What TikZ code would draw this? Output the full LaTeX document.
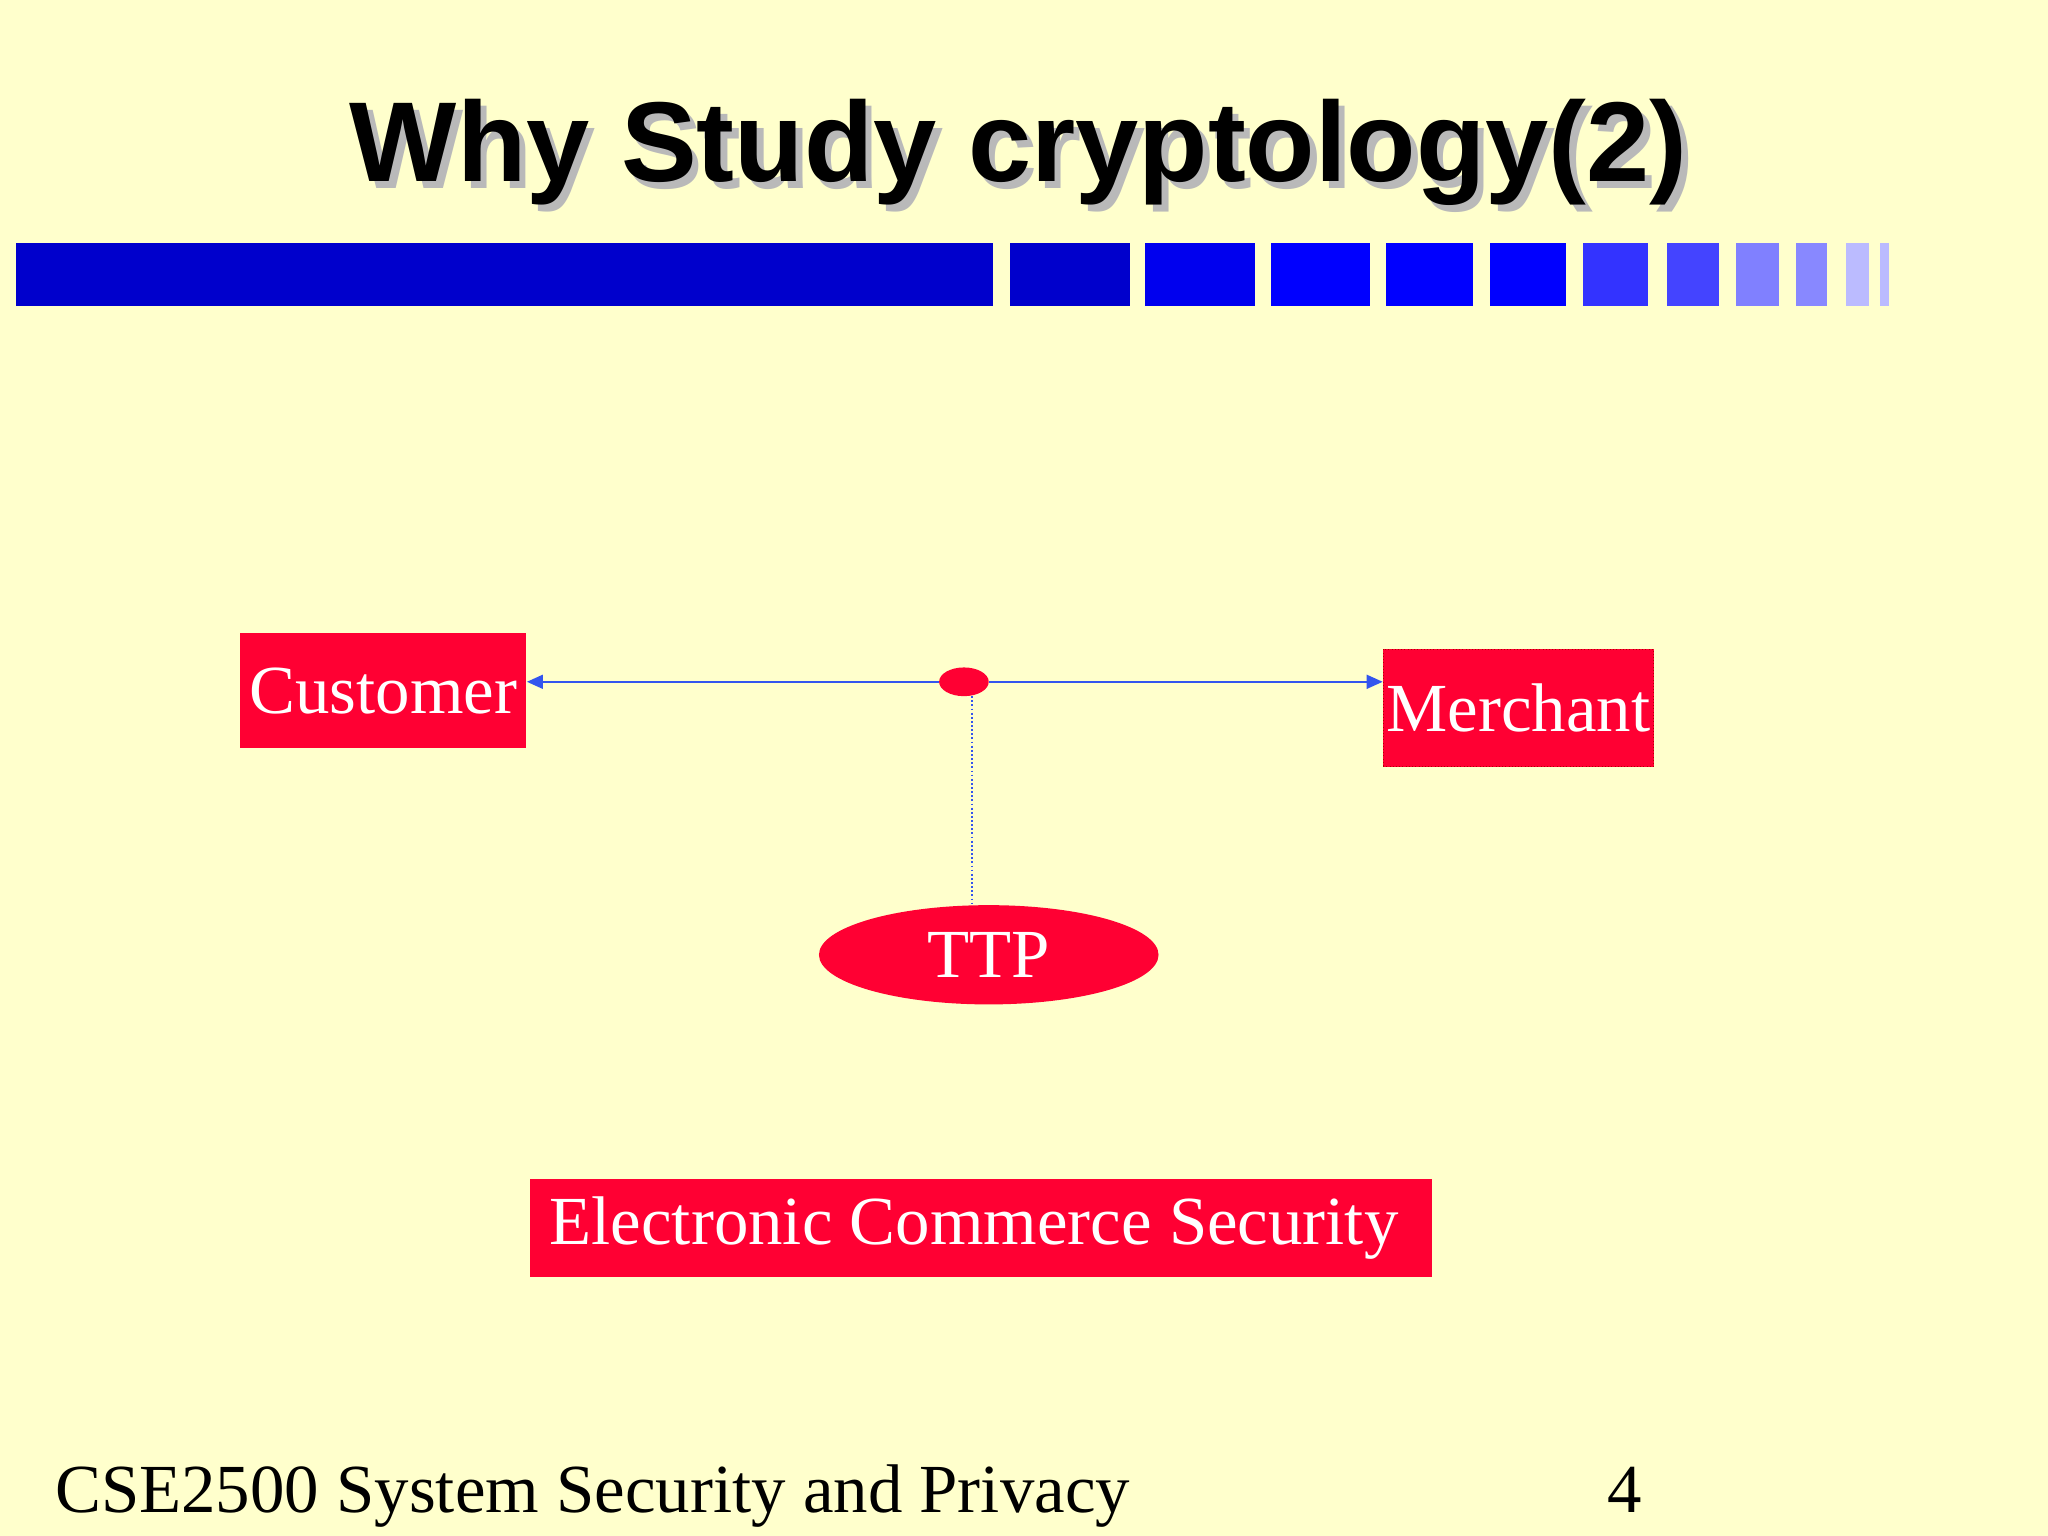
\documentclass[tikz,border=0pt]{standalone}
\usepackage{fontspec}
\setmainfont{Liberation Serif}
\setsansfont{Liberation Sans}
\usetikzlibrary{shapes.geometric,arrows.meta}
\definecolor{bg}{HTML}{FFFFCC}
\definecolor{rd}{HTML}{FF0033}
\definecolor{ln}{HTML}{3355EE}
\tikzset{
 redbox/.style={fill=rd,text=white,inner sep=0pt,font=\fontsize{30}{30}\selectfont},
 conn/.style={draw=ln,line width=1pt,-{Triangle[length=7pt,width=6pt]}}
}
\begin{document}
\begin{tikzpicture}[x=0.02cm,y=-0.02cm]
\fill[bg] (0,0) rectangle (1568,1176);
\useasboundingbox (0,0) rectangle (1568,1176);
% title
\node[text=gray!55,font=\sffamily\bfseries\fontsize{49.5}{50}\selectfont] at (785,122) {Why Study cryptology(2)};
\node (title) [font=\sffamily\bfseries\fontsize{49.5}{50}\selectfont] at (780,117) {Why Study cryptology(2)};
% bar
\foreach \a/\b/\c in {12/760/0000CC,773/865/0000CC,877/961/0000EE,973/1049/0000FF,1061/1128/0000FF,1141/1199/0000FF,1212/1262/3333FF,1276/1316/4444FF,1329/1362/8080FF,1375/1399/8888FF,1413/1431/BBBBFF,1439/1446/BBBBFF}
  {\definecolor{tmp}{HTML}{\c}\fill[tmp] (\a,186) rectangle (\b,234);}
% nodes
\node (cust) [redbox,minimum width=219*0.02cm,minimum height=88*0.02cm] at (293.5,529) {\raisebox{-2.5pt}{Customer}};
\node (merch) [redbox,draw=red!70!black,densely dotted,minimum width=207*0.02cm,minimum height=90*0.02cm] at (1162.5,542) {\raisebox{-6pt}{Merchant}};
\node (dot) [ellipse,fill=rd,minimum width=38*0.02cm,minimum height=22*0.02cm,inner sep=0pt] at (738,522) {};
\node (ttp) [ellipse,redbox,minimum width=260*0.02cm,minimum height=76*0.02cm] at (757,731) {\raisebox{-2pt}{TTP}};
\node (ecs) [redbox,minimum width=690*0.02cm,minimum height=75*0.02cm] at (751,940.5) {\hspace*{-6pt}\raisebox{-3pt}{Electronic Commerce Security}};
\coordinate (d1) at (744,533);
\coordinate (d2) at (744,692);
\draw[conn] (dot.west) -- (cust.east |- dot.west);
\draw[conn] (dot.east) -- (merch.west |- dot.east);
\draw[ln,densely dotted,line width=0.8pt] (d1) -- (d2);
% footer
\node (foot) [anchor=base west,font=\fontsize{30}{30}\selectfont,inner sep=0pt] at (42,1158) {CSE2500 System Security and Privacy};
\node (num) [anchor=base west,font=\fontsize{30}{30}\selectfont,inner sep=0pt] at (1230,1158) {4};
\end{tikzpicture}
\end{document}
